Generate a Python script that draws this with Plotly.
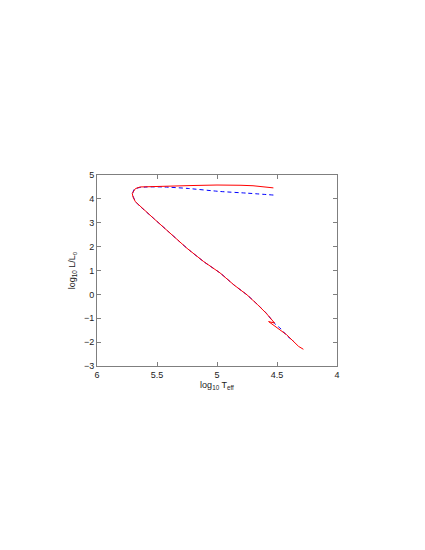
import plotly.graph_objects as go

# Red solid track
red_x = [4.53, 4.60, 4.70, 4.80, 4.90, 5.00, 5.20, 5.39, 5.55, 5.64, 5.68, 5.706, 5.70, 5.68,
         5.53, 5.39, 5.25, 5.11, 4.975, 4.86, 4.75, 4.66, 4.59, 4.52, 4.57, 4.42, 4.32, 4.28]
red_y = [4.46, 4.51, 4.55, 4.57, 4.58, 4.58, 4.56, 4.54, 4.52, 4.50, 4.43, 4.23, 4.08, 3.88,
         3.19, 2.56, 1.93, 1.37, 0.90, 0.40, -0.02, -0.44, -0.79, -1.20, -1.14, -1.69, -2.18, -2.30]

# Blue dashed track
blue_x = [4.53, 4.75, 4.975, 5.25, 5.45, 5.58, 5.65, 5.69, 5.702, 5.695, 5.675,
          5.525, 5.385, 5.245, 5.105, 4.97, 4.855, 4.745, 4.655, 4.585, 4.52, 4.475, 4.415, 4.36]
blue_y = [4.16, 4.24, 4.31, 4.44, 4.50, 4.50, 4.47, 4.40, 4.23, 4.06, 3.86,
          3.17, 2.54, 1.91, 1.35, 0.88, 0.38, -0.04, -0.46, -0.81, -1.22, -1.41, -1.74, -1.97]

x_ticks = [6, 5.5, 5, 4.5, 4]
x_ticklabels = ["6", "5.5", "5", "4.5", "4"]
y_ticks = [-3, -2, -1, 0, 1, 2, 3, 4, 5]
y_ticklabels = ["\u22123", "\u22122", "\u22121", "0", "1", "2", "3", "4", "5"]

fig = go.Figure()
fig.add_trace(go.Scatter(x=blue_x, y=blue_y, mode="lines", line_shape="spline",
                         line=dict(color="#0000ff", width=1, dash="4px,3px", smoothing=0.6)))
fig.add_trace(go.Scatter(x=red_x, y=red_y, mode="lines",
                         line=dict(color="#ff0000", width=1)))

font = dict(family="Liberation Sans, Arial", size=9, color="#222")
axis_common = dict(showline=True, linecolor="#7f7f7f", linewidth=1, mirror="ticks",
                   ticks="inside", ticklen=4, tickcolor="#7f7f7f", showgrid=False,
                   zeroline=False, tickfont=font)

fig.update_layout(
    width=425, height=550,
    paper_bgcolor="white", plot_bgcolor="white",
    showlegend=False,
    margin=dict(l=89, r=96, t=167, b=192),
    xaxis=dict(range=[6, 4], tickvals=x_ticks, ticktext=x_ticklabels,
               title=dict(text="log<sub>10</sub> T<sub>eff</sub>", standoff=2, font=font),
               **axis_common),
    yaxis=dict(range=[-3, 5], tickvals=y_ticks, ticktext=y_ticklabels,
               title=dict(text="log<sub>10</sub> L/L<sub>o</sub>", standoff=6, font=font),
               **axis_common),
)

fig.write_html("out.html")
